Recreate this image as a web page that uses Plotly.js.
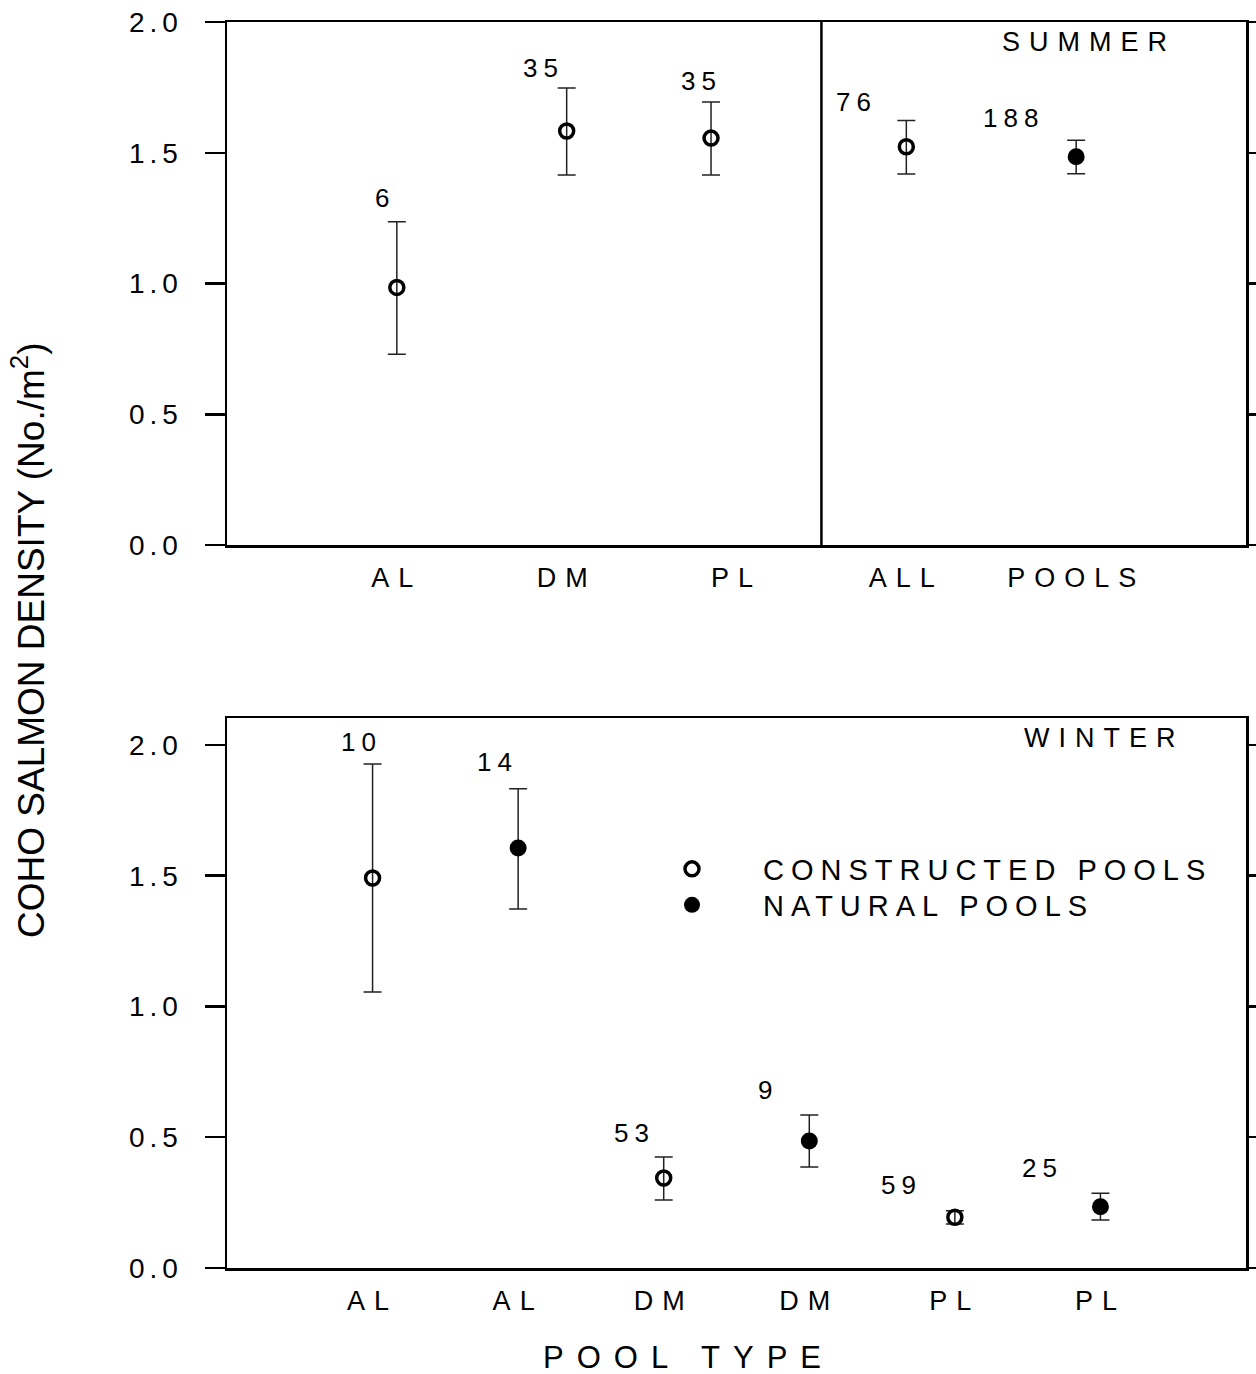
<!DOCTYPE html>
<html>
<head>
<meta charset="utf-8">
<script src="https://cdn.plot.ly/plotly-3.0.1.min.js"></script>
<style>
  html, body { margin: 0; padding: 0; background: #fff; }
  #chart { width: 1256px; height: 1374px; }
</style>
</head>
<body>
<div id="chart"></div>
<script>
// ---------------- DATA ----------------
// Summer panel
var summerCategories = ['AL', 'DM', 'PL', 'ALL', 'POOLS'];
var summerTickPos    = [1, 2, 3, 4, 5];
var summerConsX      = [1, 2, 2.85, 4];
var summerConsMean   = [0.985, 1.583, 1.556, 1.523];
var summerConsUpper  = [1.236, 1.748, 1.694, 1.623];
var summerConsLower  = [0.729, 1.415, 1.415, 1.419];
var summerConsN      = ['6', '35', '35', '76'];
var summerNatX       = [5];
var summerNatMean    = [1.485];
var summerNatUpper   = [1.548];
var summerNatLower   = [1.420];
var summerNatN       = ['188'];

// Winter panel
var winterCategories = ['AL', 'AL', 'DM', 'DM', 'PL', 'PL'];
var winterTickPos    = [1, 2, 3, 4, 5, 6];
var winterConsX      = [1, 3, 5];
var winterConsMean   = [1.491, 0.344, 0.194];
var winterConsUpper  = [1.927, 0.424, 0.219];
var winterConsLower  = [1.055, 0.260, 0.168];
var winterConsN      = ['10', '53', '59'];
var winterNatX       = [2, 4, 6];
var winterNatMean    = [1.606, 0.486, 0.234];
var winterNatUpper   = [1.832, 0.585, 0.286];
var winterNatLower   = [1.373, 0.386, 0.184];
var winterNatN       = ['14', '9', '25'];

var yTickVals   = [0, 0.5, 1.0, 1.5, 2.0];
var yTickLabels = ['0.0', '0.5', '1.0', '1.5', '2.0'];

// ---------------- STYLE ----------------
var FONT = 'Liberation Sans, Arial, Helvetica, sans-serif';
function ls(t, px) { return '<span style="letter-spacing:' + px + 'px">' + t + '</span>'; }
function diff(a, b) { return a.map(function (v, i) { return v - b[i]; }); }

// n-label offsets (pixels) relative to the top of each error bar
var summerConsShift = [[-12, 24], [-23, 20], [-10, 21], [-50, 19]];
var summerNatShift  = [[-63, 22]];
var winterConsShift = [[-11, 22], [-29, 24], [-53, 26]];
var winterNatShift  = [[-21, 27], [-41, 25], [-58, 25]];

var W = 1256, H = 1374;
var xDom = [227 / W, 1246 / W];
var yDomTop = [1 - 545 / H, 1 - 22 / H];
var yDomBot = [1 - 1268 / H, 1 - 718 / H];

var errStyle = { type: 'data', symmetric: false, color: '#222', thickness: 1.5, width: 9 };
var openMarker = { symbol: 'circle-open', size: 14, color: '#000', line: { width: 3.5, color: '#000' } };
var fillMarker = { symbol: 'circle', size: 17, color: '#000', line: { width: 0 } };

function errs(mean, up, lo) {
  return Object.assign({}, errStyle, { array: diff(up, mean), arrayminus: diff(mean, lo) });
}

var traces = [
  { x: winterConsX, y: winterConsMean, xaxis: 'x2', yaxis: 'y2', mode: 'markers', type: 'scatter',
    name: ls('CONSTRUCTED POOLS', 7), marker: openMarker, error_y: errs(winterConsMean, winterConsUpper, winterConsLower),
    showlegend: true, legend: 'legend', hoverinfo: 'skip' },
  { x: winterNatX, y: winterNatMean, xaxis: 'x2', yaxis: 'y2', mode: 'markers', type: 'scatter',
    name: ls('NATURAL POOLS', 7), marker: fillMarker, error_y: errs(winterNatMean, winterNatUpper, winterNatLower),
    showlegend: true, legend: 'legend2', hoverinfo: 'skip' },
  { x: summerConsX, y: summerConsMean, xaxis: 'x', yaxis: 'y', mode: 'markers', type: 'scatter',
    marker: openMarker, error_y: errs(summerConsMean, summerConsUpper, summerConsLower),
    showlegend: false, hoverinfo: 'skip' },
  { x: summerNatX, y: summerNatMean, xaxis: 'x', yaxis: 'y', mode: 'markers', type: 'scatter',
    marker: fillMarker, error_y: errs(summerNatMean, summerNatUpper, summerNatLower),
    showlegend: false, hoverinfo: 'skip' }
];

var annotations = [];
function addN(xs, ups, ns, shifts, xr, yr) {
  xs.forEach(function (x, i) {
    annotations.push({ x: x, y: ups[i], xref: xr, yref: yr, text: ls(ns[i], 6), showarrow: false,
      xshift: shifts[i][0], yshift: shifts[i][1], xanchor: 'center', yanchor: 'middle',
      font: { family: FONT, size: 26, color: '#000' } });
  });
}
addN(summerConsX, summerConsUpper, summerConsN, summerConsShift, 'x', 'y');
addN(summerNatX, summerNatUpper, summerNatN, summerNatShift, 'x', 'y');
addN(winterConsX, winterConsUpper, winterConsN, winterConsShift, 'x2', 'y2');
addN(winterNatX, winterNatUpper, winterNatN, winterNatShift, 'x2', 'y2');

annotations.push({ x: 1089 / W, y: 1 - 42 / H, xref: 'paper', yref: 'paper', text: ls('SUMMER', 9),
  showarrow: false, xanchor: 'center', yanchor: 'middle', font: { family: FONT, size: 27, color: '#000' } });
annotations.push({ x: 1104 / W, y: 1 - 738 / H, xref: 'paper', yref: 'paper', text: ls('WINTER', 9),
  showarrow: false, xanchor: 'center', yanchor: 'middle', font: { family: FONT, size: 27, color: '#000' } });
annotations.push({ x: 688 / W, y: 1 - 1357 / H, xref: 'paper', yref: 'paper', text: ls('POOL TYPE', 13),
  showarrow: false, xanchor: 'center', yanchor: 'middle', font: { family: FONT, size: 31, color: '#000' } });
annotations.push({ x: 28 / W, y: 1 - 640 / H, xref: 'paper', yref: 'paper', text: 'COHO SALMON DENSITY (No./m<sup>2</sup>)',
  textangle: -90, showarrow: false, xanchor: 'center', yanchor: 'middle', font: { family: FONT, size: 37, color: '#000' } });

function xAxis(dom, range, tv, tt, anchor) {
  return { domain: dom, range: range, anchor: anchor, showline: true, linewidth: 2.5, linecolor: '#000',
    mirror: true, showgrid: false, zeroline: false, ticks: '', tickvals: tv,
    ticktext: tt.map(function (t) { return ls(t, 9); }), ticklabelstandoff: 7,
    tickfont: { family: FONT, size: 27, color: '#000' }, fixedrange: true };
}
function yAxis(dom, range, anchor) {
  return { domain: dom, range: range, anchor: anchor, showline: true, linewidth: 2.5, linecolor: '#000',
    mirror: 'ticks', showgrid: false, zeroline: false, ticks: 'outside', ticklen: 20, tickwidth: 2.5,
    tickcolor: '#000', tickvals: yTickVals, ticktext: yTickLabels.map(function (t) { return ls(t, 5); }),
    ticklabelstandoff: 16, tickfont: { family: FONT, size: 28, color: '#000' }, fixedrange: true };
}

var legendBase = { xanchor: 'left', yanchor: 'middle', bgcolor: 'rgba(0,0,0,0)', borderwidth: 0,
  itemwidth: 132, font: { family: FONT, size: 29, color: '#000' } };

var layout = {
  width: W, height: H,
  margin: { l: 0, r: 0, t: 0, b: 0 },
  paper_bgcolor: '#fff', plot_bgcolor: '#fff',
  font: { family: FONT, color: '#000' },
  xaxis: xAxis(xDom, [0, 6], summerTickPos, summerCategories, 'y'),
  yaxis: yAxis(yDomTop, [0, 2.0], 'x'),
  xaxis2: xAxis(xDom, [0, 7], winterTickPos, winterCategories, 'y2'),
  yaxis2: yAxis(yDomBot, [0, 2.103], 'x2'),
  shapes: [
    { type: 'line', xref: 'x', yref: 'y domain', x0: 3.5, x1: 3.5, y0: 0, y1: 1,
      line: { color: '#000', width: 2.5 } }
  ],
  annotations: annotations,
  showlegend: true,
  legend: Object.assign({}, legendBase, { x: 621 / W, y: 1 - 869 / H }),
  legend2: Object.assign({}, legendBase, { x: 621 / W, y: 1 - 905 / H })
};

Plotly.newPlot('chart', traces, layout, { staticPlot: true, displayModeBar: false });
</script>
</body>
</html>
